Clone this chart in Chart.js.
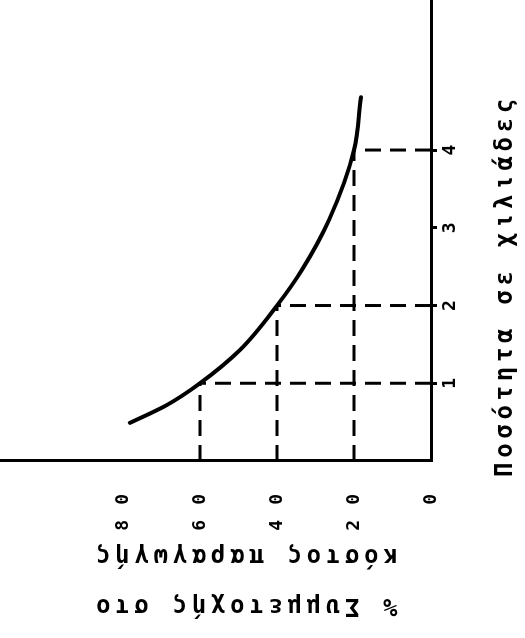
<!DOCTYPE html>
<html>
<head>
<meta charset="utf-8">
<script src="https://cdn.jsdelivr.net/npm/chart.js@4/dist/chart.umd.min.js"></script>
<style>
html, body { margin:0; padding:0; background:#fff; overflow:hidden; width:525px; height:638px; }
#wrap { position:absolute; left:0; top:0; width:638px; height:525px; transform-origin:0 0; transform:translateY(638px) rotate(-90deg); }
canvas { display:block; }
</style>
</head>
<body>
<div id="wrap"><canvas id="c" width="638" height="525"></canvas></div>
<script>
// ---- data ----
const quantityTicks = [1, 2, 3, 4];              // thousands
const percentTicks = [0, 20, 40, 60, 80];         // %
const curveQuantity = [0.49, 0.72, 1, 1.43, 2, 2.46, 3.1, 4, 4.68];
const curvePercent  = [78.2, 68.6, 60, 49.6, 40, 33.5, 26.5, 20, 18.2];
const markedQuantity = [1, 2, 4];
const markedPercent  = [60, 40, 20];
const quantityTitle = 'Ποσότητα σε χιλιάδες';
const percentTitle = ['% Συμμετοχής στο', 'κόστος παραγωγής'];

// ---- styles ----
const INK = '#000';
const FONT = 'DejaVu Sans Mono';
const SPACING = {
  x: { ticks: 0, title: 4.7, dx: -16, dy: 0 },
  y: { ticks: 15, title: 4.7, dx: 0, dy: 29 }
};

const curve = curveQuantity.map((q, i) => ({ x: q, y: curvePercent[i] }));
const guides = [];
markedQuantity.forEach((q, i) => {
  const p = markedPercent[i];
  guides.push([{ x: q, y: 0 }, { x: q, y: p }]);
  guides.push([{ x: 0, y: p }, { x: q, y: p }]);
});

const datasets = [{
  data: curve,
  borderColor: INK,
  borderWidth: 4,
  borderCapStyle: 'round',
  borderJoinStyle: 'round',
  pointRadius: 0,
  cubicInterpolationMode: 'monotone',
  fill: false
}].concat(guides.map(g => ({
  data: g,
  borderColor: INK,
  borderWidth: 3,
  borderDash: [16, 9],
  pointRadius: 0,
  fill: false
})));

const spacingPlugin = {
  id: 'spacing',
  afterUpdate(chart) {
    for (const s of Object.values(chart.scales)) {
      if (s._spWrapped) continue;
      s._spWrapped = true;
      const cfg = SPACING[s.id];
      const origLabels = s.drawLabels.bind(s);
      const origTitle = s.drawTitle.bind(s);
      s.drawLabels = function (area) {
        const c = this.ctx; c.save(); c.letterSpacing = cfg.ticks + 'px'; origLabels(area); c.restore();
      };
      s.drawTitle = function () {
        const c = this.ctx; c.save(); c.letterSpacing = cfg.title + 'px'; c.translate(cfg.dx, cfg.dy); origTitle(); c.restore();
      };
    }
  }
};

function noEdgePadding(s) {
  s.paddingTop = 0; s.paddingBottom = 0; s.paddingLeft = 0; s.paddingRight = 0;
}

new Chart(document.getElementById('c'), {
  type: 'line',
  data: { datasets },
  plugins: [spacingPlugin],
  options: {
    responsive: false,
    animation: false,
    devicePixelRatio: 1,
    layout: { padding: 0 },
    plugins: { legend: { display: false }, tooltip: { enabled: false }, title: { display: false } },
    scales: {
      x: {
        type: 'linear',
        position: 'bottom',
        min: 0,
        max: 5.93,
        afterBuildTicks: s => { s.ticks = quantityTicks.map(v => ({ value: v })); },
        afterFit: s => { s.height = 94; noEdgePadding(s); },
        ticks: { color: INK, padding: 3, maxRotation: 0, autoSkip: false,
                 font: { family: FONT, weight: 'bold', size: 18 } },
        grid: { display: true, drawOnChartArea: false, drawTicks: true, tickLength: 6, lineWidth: 3, color: INK },
        border: { display: true, color: INK, width: 3 },
        title: { display: true, text: quantityTitle, align: 'start', color: INK,
                 font: { family: FONT, weight: 'bold', size: 24, lineHeight: 1.1 },
                 padding: { top: 0, bottom: 6 } }
      },
      y: {
        type: 'linear',
        position: 'left',
        min: 0,
        max: 111.95,
        afterBuildTicks: s => { s.ticks = percentTicks.map(v => ({ value: v })); },
        afterFit: s => { s.width = 177; noEdgePadding(s); },
        ticks: { color: INK, padding: 10, font: { family: FONT, weight: 'bold', size: 18 } },
        grid: { display: false },
        border: { display: true, color: INK, width: 3 },
        title: { display: true, text: percentTitle, align: 'center', color: INK,
                 font: { family: FONT, weight: 'bold', size: 24, lineHeight: 2.08 },
                 padding: { top: 8, bottom: 0 } }
      }
    }
  }
});
</script>
</body>
</html>
